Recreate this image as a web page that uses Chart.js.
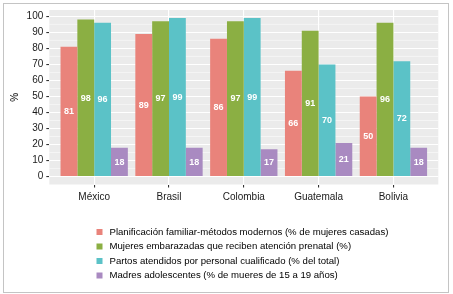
<!DOCTYPE html>
<html><head><meta charset="utf-8">
<script src="https://cdn.jsdelivr.net/npm/chart.js@4"></script>
<style>html,body{margin:0;padding:0;background:#fff}canvas{display:block}</style>
</head><body>
<canvas id="c" width="453" height="294"></canvas>
<script>
const categories = ["México", "Brasil", "Colombia", "Guatemala", "Bolivia"];
const seriesNames = [
  "Planificación familiar-métodos modernos (% de mujeres casadas)",
  "Mujeres embarazadas que reciben atención prenatal (%)",
  "Partos atendidos por personal cualificado (% del total)",
  "Madres adolescentes (% de mueres de 15 a 19 años)"
];
const planificacion = [81, 89, 86, 66, 50];
const prenatal = [98, 97, 97, 91, 96];
const partos = [96, 99, 99, 70, 72];
const adolescentes = [18, 18, 17, 21, 18];
const yTicks = [0, 10, 20, 30, 40, 50, 60, 70, 80, 90, 100];
const colors = ["#E9837B", "#8BAF43", "#5BC2C7", "#A98AC1"];

const seriesValues = [planificacion, prenatal, partos, adolescentes];
const datasets = seriesValues.map((vals, i) => ({
  label: seriesNames[i],
  data: vals.map((v, j) => ({x: j + 1, y: v})),
  backgroundColor: colors[i],
  borderWidth: 0,
  categoryPercentage: 0.9,
  barPercentage: 1.0
}));

const FONT = "'Liberation Sans', Arial, sans-serif";

const panelPlugin = {
  id: 'panel',
  beforeDraw(chart) {
    const {ctx, chartArea: a, scales} = chart;
    ctx.save();
    ctx.fillStyle = '#EBEBEB';
    ctx.fillRect(a.left, a.top, a.right - a.left, a.bottom - a.top);
    ctx.strokeStyle = '#FFFFFF';
    ctx.lineWidth = 0.5;
    for (let i = 0; i < yTicks.length - 1; i++) {
      const y = scales.y.getPixelForValue((yTicks[i] + yTicks[i + 1]) / 2);
      ctx.beginPath(); ctx.moveTo(a.left, y); ctx.lineTo(a.right, y); ctx.stroke();
    }
    ctx.restore();
  },
  afterDatasetsDraw(chart) {
    const {ctx, scales} = chart;
    ctx.save();
    ctx.fillStyle = '#FFFFFF';
    ctx.font = "bold 9px " + FONT;
    ctx.textAlign = 'center';
    ctx.textBaseline = 'middle';
    chart.data.datasets.forEach((ds, i) => {
      const meta = chart.getDatasetMeta(i);
      meta.data.forEach((bar, j) => {
        const v = ds.data[j].y;
        ctx.fillText(String(v), bar.x, scales.y.getPixelForValue(v / 2));
      });
    });
    ctx.restore();
  },
  afterDraw(chart) {
    const {ctx} = chart;
    ctx.save();
    const rowY = [232, 246.5, 261, 275.5];
    ctx.font = "9.6px " + FONT;
    ctx.textBaseline = 'middle';
    ctx.textAlign = 'left';
    chart.data.datasets.forEach((ds, i) => {
      ctx.fillStyle = ds.backgroundColor;
      ctx.fillRect(96.5, rowY[i] - 3, 6, 6);
      ctx.fillStyle = '#000000';
      ctx.fillText(ds.label, 109.5, rowY[i]);
    });
    ctx.strokeStyle = '#C4C4C4';
    ctx.lineWidth = 1;
    ctx.strokeRect(3.5, 3.5, 445, 289);
    ctx.restore();
  }
};

new Chart(document.getElementById('c'), {
  type: 'bar',
  data: {datasets},
  options: {
    responsive: false,
    animation: false,
    devicePixelRatio: 1,
    layout: {padding: {left: 0, right: 14.7, top: 10, bottom: 0}},
    plugins: {legend: {display: false}, tooltip: {enabled: false}},
    scales: {
      x: {
        type: 'linear',
        offset: false,
        min: 0.4, max: 5.6,
        afterBuildTicks(s) { s.ticks = categories.map((c, i) => ({value: i + 1})); },
        afterFit(s) { s.height = 294 - 184.5; },
        grid: {offset: false, color: '#FFFFFF', lineWidth: 1.1, drawTicks: true, tickLength: 3, tickColor: '#333333'},
        border: {display: false},
        ticks: {
          padding: 4,
          color: '#1a1a1a',
          font: {family: FONT, size: 10},
          maxRotation: 0,
          autoSkip: false,
          callback: (v) => categories[Math.round(v) - 1]
        }
      },
      y: {
        min: -4.95, max: 103.95,
        afterBuildTicks(s) { s.ticks = yTicks.map(v => ({value: v})); },
        afterFit(s) { s.width = 49.3; },
        grid: {color: '#FFFFFF', lineWidth: 1.1, drawTicks: true, tickLength: 3, tickColor: '#333333'},
        border: {display: false},
        ticks: {
          padding: 3,
          color: '#1a1a1a',
          font: {family: FONT, size: 10},
          autoSkip: false
        },
        title: {display: true, text: '%', color: '#000000', font: {family: FONT, size: 10}, padding: {top: 9, bottom: 0}}
      }
    }
  },
  plugins: [panelPlugin]
});
</script>
</body></html>
